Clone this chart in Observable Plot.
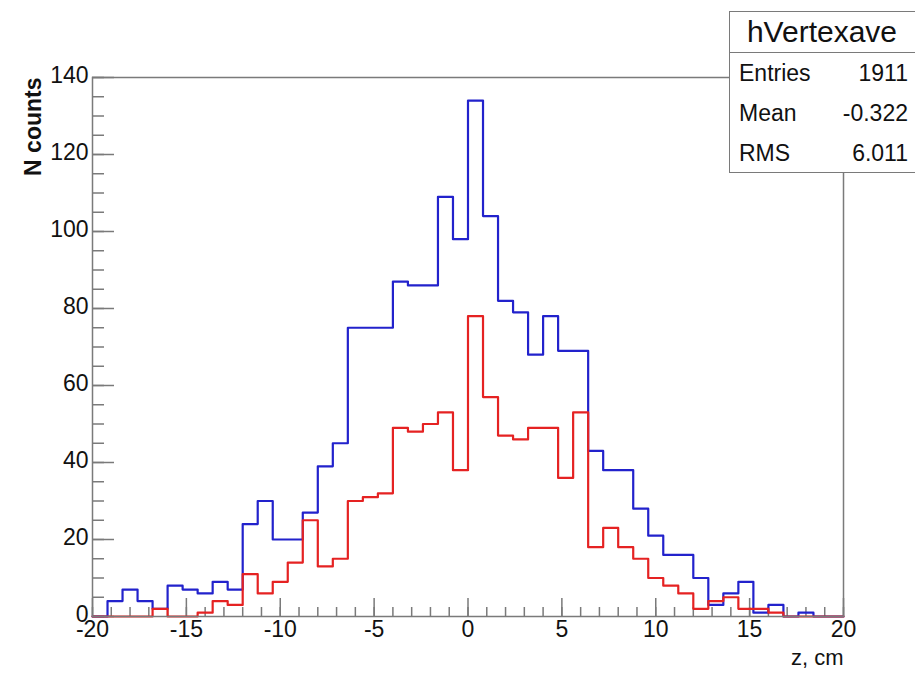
<!DOCTYPE html>
<html>
<head>
<meta charset="utf-8">
<script src="https://cdn.jsdelivr.net/npm/d3@7"></script>
<script src="https://cdn.jsdelivr.net/npm/@observablehq/plot@0.6"></script>
<style>
  body { margin: 0; background: #fff; overflow: hidden; }
  #wrap { position: relative; width: 915px; height: 680px; overflow: hidden; }
  #stats {
    position: absolute; left: 729px; top: 11px; width: 210px; height: 162px;
    border: 1.5px solid #7a7a7a; background: #fff; box-sizing: border-box;
    font-family: "Liberation Sans", Arial, Helvetica, sans-serif; color: #111;
  }
  #stats .title { height: 40px; border-bottom: 1.5px solid #7a7a7a; font-size: 30px;
    display: flex; align-items: center; justify-content: center; padding-right: 24px; }
  #stats .row { height: 40px; display: flex; align-items: center; justify-content: space-between;
    padding: 0 30px 0 9px; font-size: 23px; }
</style>
</head>
<body>
<div id="wrap"><div id="chart"></div>
  <div id="stats"></div>
</div>
<script>
// Histogram definition: 50 bins from -20 to 20 cm
const xMin = -20, xMax = 20, nBins = 50;
const edges = d3.range(nBins + 1).map(i => xMin + i * (xMax - xMin) / nBins);

// Bin contents
const blueCounts = [0,4,7,4,2,8,7,6,9,7,24,30,20,20,27,39,45,75,75,75,87,86,86,109,98,134,104,82,79,68,78,69,69,43,38,38,28,21,16,16,10,3,6,9,1,3,0,1,0,0];
const redCounts  = [0,0,0,0,2,0,0,1,4,3,11,6,9,14,25,13,15,30,31,32,49,48,50,53,38,78,57,47,46,49,49,36,53,18,23,18,15,10,8,6,2,4,5,2,2,1,0,0,0,0];

// Axis ticks and labels
const xMajorTicks = [-20,-15,-10,-5,0,5,10,15,20];
const xMinorTicks = d3.range(-20, 21, 1);
const yMajorTicks = [0,20,40,60,80,100,120,140];
const yMinorTicks = d3.range(0, 141, 5);
const xTitle = "z, cm";
const yTitle = "N counts";

// Stats box
const statsTitle = "hVertexave";
const statsRows = [["Entries", "1911"], ["Mean", "-0.322"], ["RMS", "6.011"]];

function outline(vals) {
  const pts = [{x: edges[0], y: 0}];
  vals.forEach((v, i) => pts.push({x: edges[i], y: v}));
  pts.push({x: edges[nBins], y: vals[nBins - 1]});
  pts.push({x: edges[nBins], y: 0});
  return pts;
}

const W = 915, H = 680, mL = 92, mR = 72, mT = 77, mB = 64;
const plotW = W - mL - mR, plotH = H - mT - mB;
const axisColor = "#7a7a7a";
const font = "'Liberation Sans', Arial, Helvetica, sans-serif";

const chart = Plot.plot({
  width: W, height: H,
  marginLeft: mL, marginRight: mR, marginTop: mT, marginBottom: mB,
  style: {fontFamily: font, background: "#fff", color: "#111"},
  x: {domain: [xMin, xMax], axis: null},
  y: {domain: [0, 140], axis: null},
  marks: [
    Plot.ruleX(xMinorTicks, {x: d => d, insetTop: plotH - 9, stroke: axisColor, strokeWidth: 1.5}),
    Plot.ruleX(xMajorTicks, {x: d => d, insetTop: plotH - 18, stroke: axisColor, strokeWidth: 1.5}),
    Plot.ruleY(yMinorTicks, {y: d => d, insetRight: plotW - 12, stroke: axisColor, strokeWidth: 1.5}),
    Plot.ruleY(yMajorTicks, {y: d => d, insetRight: plotW - 22, stroke: axisColor, strokeWidth: 1.5}),
    Plot.line(outline(blueCounts), {x: "x", y: "y", curve: "step-after", stroke: "#2222cc", strokeWidth: 2.2}),
    Plot.line(outline(redCounts), {x: "x", y: "y", curve: "step-after", stroke: "#e52222", strokeWidth: 2.2}),
    Plot.frame({stroke: axisColor, strokeWidth: 1.5}),
    Plot.text(xMajorTicks, {x: d => d, text: d => String(d), frameAnchor: "bottom", dy: 20, fontSize: 23, fill: "#111"}),
    Plot.text(yMajorTicks, {y: d => d, text: d => String(d), frameAnchor: "left", textAnchor: "end", dx: -4, dy: -2, fontSize: 23, fill: "#111"}),
    Plot.text([xTitle], {text: d => d, frameAnchor: "bottom-right", textAnchor: "end", dy: 48, fontSize: 22, fill: "#111"}),
    Plot.text([yTitle], {text: d => d, frameAnchor: "top-left", textAnchor: "end", rotate: -90, dx: -68, dy: 0, fontSize: 23, fontWeight: "bold", fill: "#111"})
  ]
});
document.getElementById("chart").appendChild(chart);

const stats = document.getElementById("stats");
const t = document.createElement("div");
t.className = "title"; t.textContent = statsTitle; stats.appendChild(t);
statsRows.forEach(([k, v]) => {
  const r = document.createElement("div");
  r.className = "row";
  r.innerHTML = `<span>${k}</span><span>${v}</span>`;
  stats.appendChild(r);
});
</script>
</body>
</html>
